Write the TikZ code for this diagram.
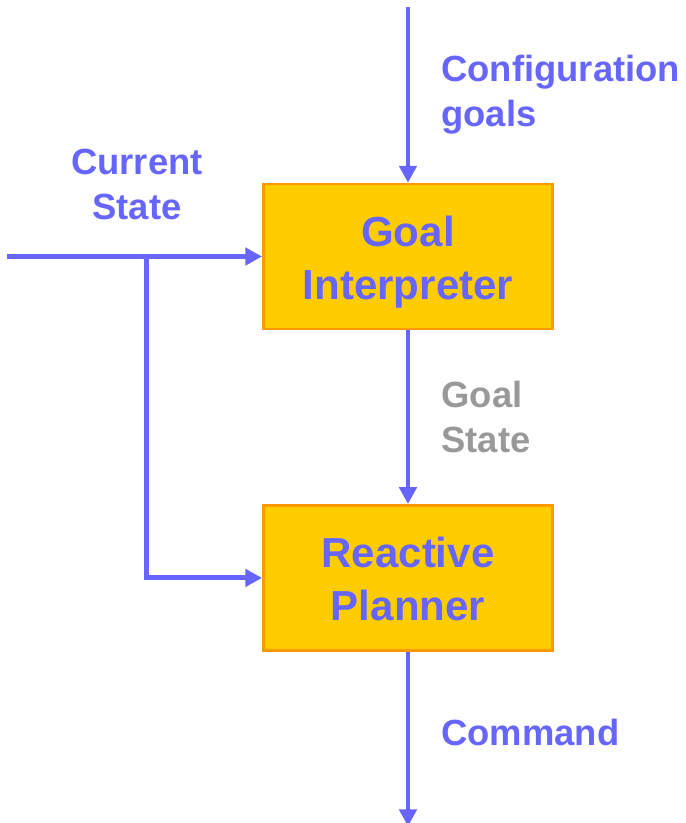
\documentclass[tikz,border=0pt]{standalone}
\usepackage{fontspec}
\setmainfont{Liberation Sans}
\usetikzlibrary{positioning, arrows.meta}
\definecolor{flowblue}{RGB}{102,102,255}
\definecolor{boxfill}{RGB}{255,204,0}
\definecolor{boxedge}{RGB}{255,153,0}
\definecolor{labelgray}{RGB}{153,153,153}

\begin{document}
\begin{tikzpicture}[>={Triangle[length=4.2mm, width=4.3mm]},
		block/.style={draw=boxedge, line width=2pt, fill=boxfill, minimum width=7.225cm, minimum height=3.625cm},
		blocktext/.style={align=center, text=flowblue, font=\fontsize{29.9}{37.7}\selectfont\bfseries},
		flow/.style={draw=flowblue, line width=3.5pt},
		tag/.style={text=flowblue, inner sep=0pt, align=left, font=\fontsize{25.9}{32}\selectfont\bfseries}]
		% Nodes
		\node[block] (goal) {};
		\node[block, below=4.34cm of goal] (plan) {};
		\node[blocktext] (goaltext) at ([yshift=-0.13cm]goal.center) {Goal\\Interpreter};
		\node[blocktext] (plantext) at ([yshift=-0.02cm]plan.center) {Reactive\\Planner};
		\coordinate[above=4.4cm of goal] (cfg);
		\coordinate[below=4.36cm of plan] (cmd);
		\coordinate[left=6.375cm of goal] (state);
		\coordinate[left=2.9cm of goal] (split);
		\node[tag, align=center] (cur) at ([xshift=-6.775cm, yshift=1.79cm]goal.center) {Current\\State};
		
		% Frame
		\useasboundingbox ([xshift=-10.2cm, yshift=6.4125cm]goal.center) rectangle ([xshift=6.95cm, yshift=-14.1625cm]goal.center);
		
		% Vertical arrows
		\draw[flow, ->] (cfg) -- (goal) node[tag, midway, right=0.775cm] {Configuration\\goals};
		\draw[flow, ->] (goal) -- (plan) node[tag, text=labelgray, midway, right=0.775cm] {Goal\\State};
		\draw[flow, ->] (plan) -- (cmd) node[tag, midway, right=0.775cm, yshift=0.16cm] {Command};
		
		% Current state feed
		\draw[flow, ->] (state) -- (goal);
		\draw[flow, ->] (split) |- (plan.west);
	\end{tikzpicture}
\end{document}
